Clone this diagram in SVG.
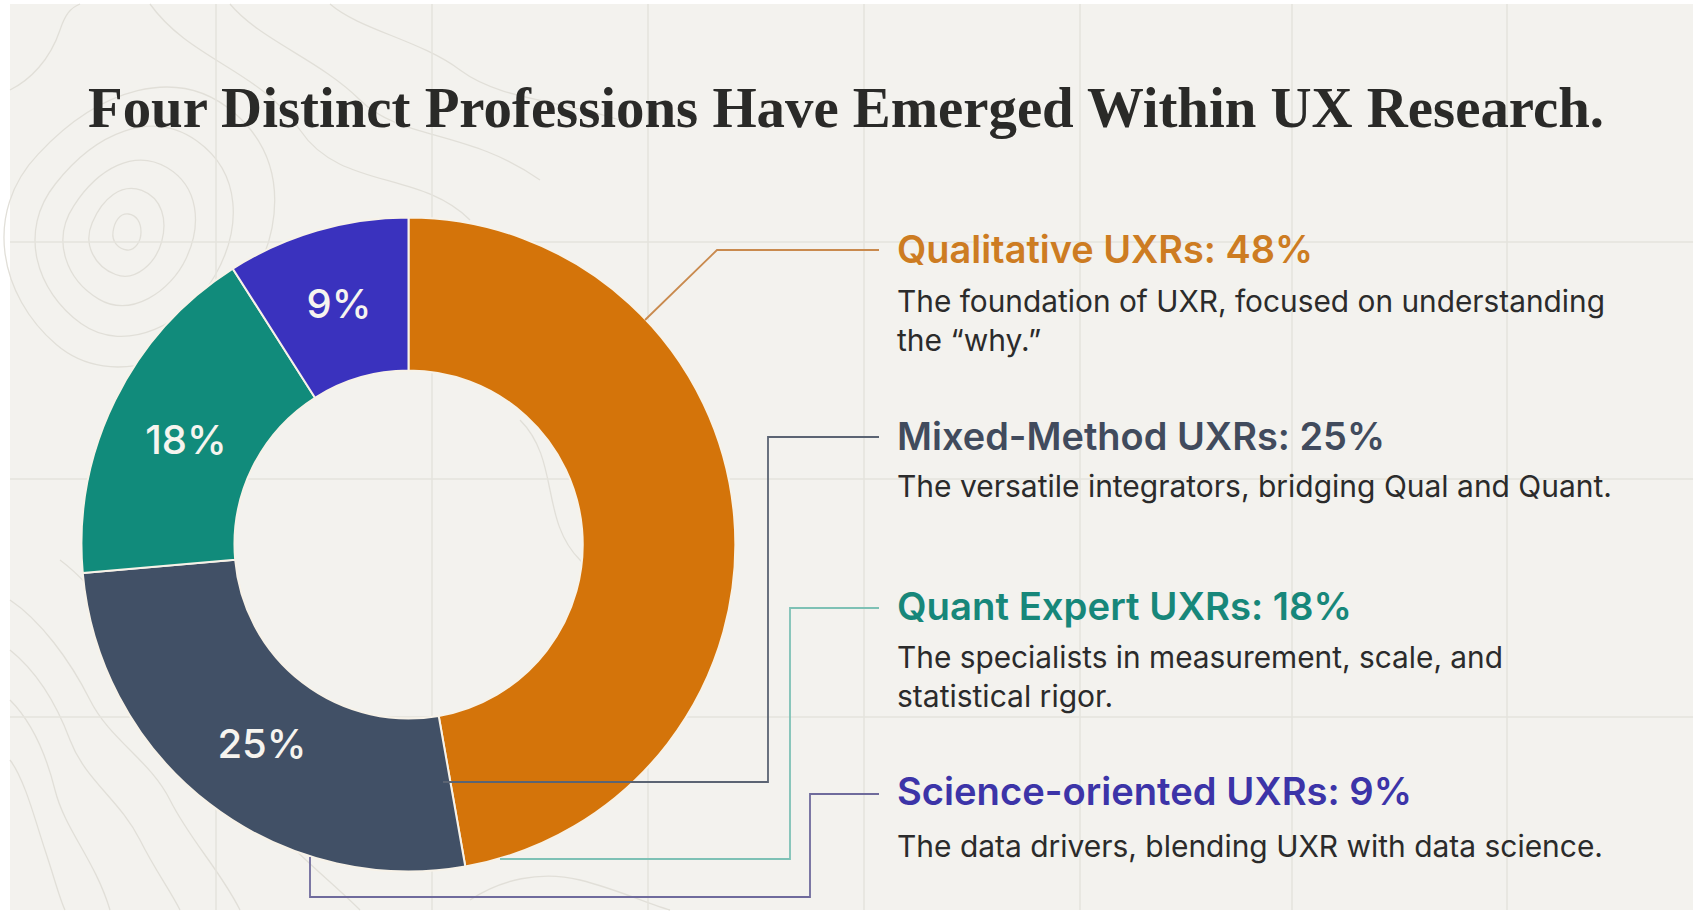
<svg xmlns="http://www.w3.org/2000/svg" width="1693" height="911" viewBox="0 0 1693 911">
  <defs>
    <style>
      .grid { stroke: #E5E3DD; stroke-width: 1.5; fill: none; }
      .topo { stroke: #E1DFD8; stroke-width: 1.3; fill: none; }
      .title { font-family: "Liberation Serif", "DejaVu Serif", serif; font-weight: 700; font-size: 57px; fill: #2A2A28; }
      .pct { font-family: Inter, "Liberation Sans", sans-serif; font-weight: 500; font-size: 40px; fill: #F6F4EF; text-anchor: middle; }
      .head { font-family: Inter, "Liberation Sans", sans-serif; font-weight: 600; font-size: 38px; }
      .body { font-family: Inter, "Liberation Sans", sans-serif; font-weight: 400; font-size: 30px; fill: #2B2B2B; }
      .seg { stroke: #F7F2E8; stroke-width: 2; stroke-linejoin: round; }
      .conn { fill: none; stroke-width: 1.8; stroke-linejoin: miter; }
    </style>
    <path id="blob" fill="none" stroke="#E1DFD8" stroke-width="1.3" vector-effect="non-scaling-stroke" d="M 1 0 C 1 0.5 0.6 1.05 0 1 C -0.6 0.95 -1.1 0.55 -1 0 C -0.9 -0.6 -0.5 -1.05 0.1 -1 C 0.7 -0.95 1 -0.5 1 0 Z"/>
  </defs>

  <!-- background -->
  <rect x="0" y="0" width="1693" height="911" fill="#FFFFFF"/>
  <rect x="10" y="4" width="1683" height="906" fill="#F3F2EE"/>

  <g id="topography">
    <use href="#blob" transform="translate(127,232) scale(14,18)"/>
    <use href="#blob" transform="translate(127,232) rotate(15) scale(36,44)"/>
    <use href="#blob" transform="translate(130,232) rotate(25) scale(62,74)"/>
    <use href="#blob" transform="translate(135,230) rotate(30) scale(92,108)"/>
    <use href="#blob" transform="translate(140,225) rotate(35) scale(124,146)"/>
    <path class="topo" d="M 150 4 C 190 60 260 70 300 130 C 340 190 420 170 470 220"/>
    <path class="topo" d="M 230 4 C 260 40 320 60 360 100 C 400 140 470 130 540 180"/>
    <path class="topo" d="M 330 4 C 360 30 420 40 460 70 C 500 100 560 100 620 120"/>
    <path class="topo" d="M 10 90 C 30 80 50 60 60 30 C 65 15 70 8 80 4"/>
    <path class="topo" d="M 10 600 C 40 620 70 660 90 700 C 110 740 150 760 170 800 C 190 840 220 870 240 910"/>
    <path class="topo" d="M 10 650 C 35 670 55 700 70 740 C 85 780 120 800 140 840 C 155 870 170 890 180 910"/>
    <path class="topo" d="M 10 700 C 30 720 45 750 55 790 C 65 830 95 860 110 910"/>
    <path class="topo" d="M 10 760 C 25 780 35 820 45 850 C 55 880 60 900 65 910"/>
    <path class="topo" d="M 60 560 C 100 590 130 640 160 690 C 190 740 240 770 270 820 C 290 850 330 880 360 910"/>
    <path class="topo" d="M 520 420 C 560 460 540 520 580 560 C 620 600 600 660 640 700"/>
    <path class="topo" d="M 470 900 C 500 880 540 870 580 880 C 620 890 650 905 670 910"/>
  </g>

  <g id="grid">
    <line class="grid" x1="216" y1="4" x2="216" y2="910"/>
    <line class="grid" x1="432" y1="4" x2="432" y2="910"/>
    <line class="grid" x1="648" y1="4" x2="648" y2="910"/>
    <line class="grid" x1="864" y1="4" x2="864" y2="910"/>
    <line class="grid" x1="1080" y1="4" x2="1080" y2="910"/>
    <line class="grid" x1="1292" y1="4" x2="1292" y2="910"/>
    <line class="grid" x1="1507" y1="4" x2="1507" y2="910"/>
    <line class="grid" x1="10" y1="242" x2="1693" y2="242"/>
    <line class="grid" x1="10" y1="479" x2="1693" y2="479"/>
    <line class="grid" x1="10" y1="717" x2="1693" y2="717"/>
  </g>

  <g id="title">
    <text class="title" x="88" y="127" textLength="1516" lengthAdjust="spacingAndGlyphs">Four Distinct Professions Have Emerged Within UX Research.</text>
  </g>

  <g id="donut">
    <g id="seg-qualitative">
      <path class="seg" fill="#D4740A" d="M 408.5 217.5 A 327 327 0 0 1 465.3 866.5 L 438.7 715.9 A 174 174 0 0 0 408.5 370.5 Z"/>
    </g>
    <g id="seg-mixed">
      <path class="seg" fill="#415066" d="M 465.3 866.5 A 327 327 0 0 1 82.75 573 L 235.16 559.67 A 174 174 0 0 0 438.7 715.9 Z"/>
      <text class="pct" x="262" y="758">25%</text>
    </g>
    <g id="seg-quant">
      <path class="seg" fill="#118B7B" d="M 82.75 573 A 327 327 0 0 1 232.8 268.7 L 315 397.75 A 174 174 0 0 0 235.16 559.67 Z"/>
      <text class="pct" x="186" y="454">18%</text>
    </g>
    <g id="seg-science">
      <path class="seg" fill="#3A32BE" d="M 232.8 268.7 A 327 327 0 0 1 408.5 217.5 L 408.5 370.5 A 174 174 0 0 0 315 397.75 Z"/>
      <text class="pct" x="339" y="318">9%</text>
    </g>
  </g>

  <g id="connectors">
    <polyline class="conn" stroke="#C98A4E" stroke-width="1.5" points="645,320 717,250 879,250"/>
    <polyline class="conn" stroke="#5B6473" points="443,782 768,782 768,437 879,437"/>
    <polyline class="conn" stroke="#7EC1B5" points="500,859 790,859 790,608 879,608"/>
    <polyline class="conn" stroke="#6F6B9C" points="310,857 310,897 810,897 810,794 879,794"/>
  </g>

  <g id="label-qualitative">
    <text class="head" fill="#CD7C22" x="897" y="263" textLength="416" lengthAdjust="spacingAndGlyphs">Qualitative UXRs: 48%</text>
    <text class="body" x="897" y="312" textLength="708" lengthAdjust="spacingAndGlyphs">The foundation of UXR, focused on understanding</text>
    <text class="body" x="897" y="351">the “why.”</text>
  </g>
  <g id="label-mixed">
    <text class="head" fill="#414B5D" x="897" y="450" textLength="488" lengthAdjust="spacingAndGlyphs">Mixed-Method UXRs: 25%</text>
    <text class="body" x="897" y="497" textLength="715" lengthAdjust="spacingAndGlyphs">The versatile integrators, bridging Qual and Quant.</text>
  </g>
  <g id="label-quant">
    <text class="head" fill="#17877A" x="897" y="620" textLength="455" lengthAdjust="spacingAndGlyphs">Quant Expert UXRs: 18%</text>
    <text class="body" x="897" y="668" textLength="606" lengthAdjust="spacingAndGlyphs">The specialists in measurement, scale, and</text>
    <text class="body" x="897" y="707">statistical rigor.</text>
  </g>
  <g id="label-science">
    <text class="head" fill="#3C34A8" x="897" y="805" textLength="515" lengthAdjust="spacingAndGlyphs">Science-oriented UXRs: 9%</text>
    <text class="body" x="897" y="857" textLength="706" lengthAdjust="spacingAndGlyphs">The data drivers, blending UXR with data science.</text>
  </g>
</svg>
